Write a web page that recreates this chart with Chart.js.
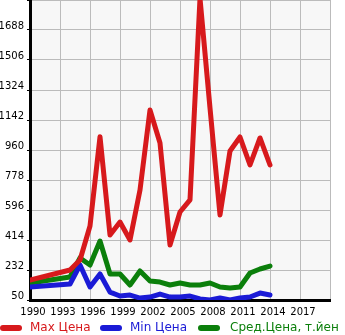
<!DOCTYPE html>
<html><head><meta charset="utf-8">
<script src="https://cdn.jsdelivr.net/npm/chart.js@4/dist/chart.umd.min.js"></script>
<style>html,body{margin:0;padding:0;background:#fff}#w{width:345px;height:335px}</style>
</head><body><div id="w"><canvas id="c" width="345" height="335"></canvas></div>
<script>
const years = [1990,1994,1995,1996,1997,1998,1999,2000,2001,2002,2003,2004,2005,2006,2007,2008,2009,2010,2011,2012,2013,2014];
const maxPrice = [171,232,293,499,1040,444,523,414,717,1203,1002,384,584,657,1880,1215,566,954,1039,869,1033,869];
const minPrice = [129,147,262,129,208,98,74,80,62,68,86,68,68,74,56,50,62,50,62,68,92,80];
const avgPrice = [153,190,305,262,408,208,208,141,226,165,159,141,153,141,141,153,129,123,129,214,238,256];
const xTickLabels = ['1990','1993','1996','1999','2002','2005','2008','2011','2014','2017',''];
const yTickLabels = ['50','232','414','596','778','960','1142','1324','1506','1688',''];
const seriesNames = ['Max Цена','Min Цена','Сред.Цена, т.йен'];
const seriesColors = ['#d7191c','#1a1ad6','#0b7f0b'];
const yMin = 50, yMax = 1870, yStep = 182;
const xMin = 1990, xMax = 2020, xStep = 3;

const pts = arr => years.map((y,i)=>({x:y,y:arr[i]}));
const bgPlugin = {id:'bg', beforeDraw(ch){const a=ch.chartArea,c=ch.ctx;c.save();c.fillStyle='#f7f7f7';c.fillRect(a.left,a.top,a.right-a.left,a.bottom-a.top);c.restore();}};
const xLabelPlugin = {id:'xl', afterDraw(ch){
  const c=ch.ctx, s=ch.scales.x; c.save();
  c.font='10px "DejaVu Sans"'; c.fillStyle='#000'; c.textAlign='center'; c.textBaseline='middle';
  xTickLabels.forEach((l,i)=>{ if(l) c.fillText(l, s.getPixelForValue(xMin+i*xStep)+3, 312); });
  c.restore();
}};
const legendPlugin = {id:'lg', afterDraw(ch){
  const c=ch.ctx; c.save();
  const pos=[[3,30],[103,130],[201,230]];
  c.font='12px "DejaVu Sans"'; c.textBaseline='middle';
  ch.data.datasets.forEach((d,i)=>{
    c.strokeStyle=d.borderColor; c.lineWidth=6; c.lineCap='round';
    c.beginPath(); c.moveTo(pos[i][0],328); c.lineTo(pos[i][0]+16,328); c.stroke();
    c.fillStyle=d.borderColor; c.fillText(d.label,pos[i][1],328);
  });
  c.restore();
}};
const mk=(i,arr)=>({label:seriesNames[i],data:pts(arr),borderColor:seriesColors[i],backgroundColor:seriesColors[i],borderWidth:5,pointRadius:0,tension:0,borderJoinStyle:'round',borderCapStyle:'round'});
new Chart(document.getElementById('c'),{
  type:'line',
  data:{datasets:[mk(0,maxPrice),mk(1,minPrice),mk(2,avgPrice)]},
  options:{responsive:false,animation:false,devicePixelRatio:1,
    layout:{padding:{left:0,right:15,top:0,bottom:15}},
    plugins:{legend:{display:false},tooltip:{enabled:false}},
    scales:{
      x:{type:'linear',min:xMin,max:xMax,
        afterBuildTicks(s){s.ticks=xTickLabels.map((l,i)=>({value:xMin+i*xStep}));},
        afterFit(s){s.height=20;s.paddingLeft=0;s.paddingRight=0;},
        ticks:{display:false},
        grid:{color:'#bbbbbb',lineWidth:1,drawTicks:false},
        border:{color:'#000',width:3}},
      y:{min:yMin,max:yMax,
        afterBuildTicks(s){s.ticks=yTickLabels.map((l,i)=>({value:yMin+i*yStep}));},
        afterFit(s){s.width=30;s.paddingTop=0;s.paddingBottom=0;},
        ticks:{autoSkip:false,color:'#000',font:{family:'DejaVu Sans',size:10},padding:3,labelOffset:-4,
          callback:(v,i)=>yTickLabels[i]},
        grid:{color:'#bbbbbb',lineWidth:1,tickLength:3,tickColor:'#000'},
        border:{color:'#000',width:3}}
    }
  },
  plugins:[bgPlugin,xLabelPlugin,legendPlugin]
});
</script></body></html>
